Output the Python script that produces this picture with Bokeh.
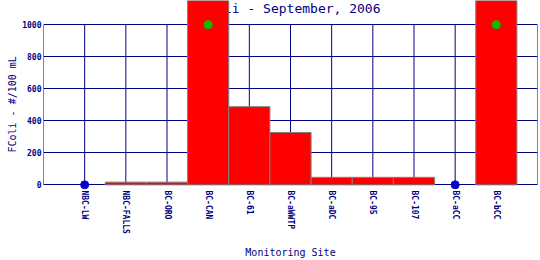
import numpy as np
from bokeh.plotting import figure
from bokeh.models import Range1d, FixedTicker, Title
from bokeh.core.properties import value
from bokeh.embed import file_html
from bokeh.resources import INLINE

# ---- data ----
sites = ["NBC-LW", "NBC-FALLS", "BC-ORO", "BC-CAN", "BC-61", "BC-aWWTP",
         "BC-aDC", "BC-95", "BC-107", "BC-aCC", "BC-bCC"]
fcoli = [0, 17, 17, 1200, 488, 327, 47, 47, 47, 0, 1200]   # >1000 = off scale
y_ticks = [0, 200, 400, 600, 800, 1000]
scale_max = 1000
title_text = "FColi - September, 2006"
x_label = "Monitoring Site"
y_label = "FColi - #/100 mL"

NAVY = "#000080"
FONT = "DejaVu Sans Mono"

n = len(sites)
idx = np.arange(n)
vals = np.array(fcoli, dtype=float)

p = figure(width=540, height=260,
           x_range=Range1d(-1, n), y_range=Range1d(-29, 1151),
           output_backend="svg", toolbar_location=None,
           min_border_left=43, min_border_right=3,
           min_border_top=0, min_border_bottom=70)
p.outline_line_color = None
p.background_fill_color = "white"
p.border_fill_color = "white"
p.xgrid.visible = False

p.ygrid.ticker = FixedTicker(ticks=y_ticks)
p.ygrid.grid_line_color = NAVY
p.ygrid.grid_line_width = 1
p.ygrid.grid_line_alpha = 1

# y axis
p.yaxis.ticker = FixedTicker(ticks=y_ticks)
p.yaxis.axis_line_color = None
p.yaxis.major_tick_line_color = None
p.yaxis.minor_tick_line_color = None
p.yaxis.major_tick_out = 0
p.yaxis.major_tick_in = 0
p.yaxis.minor_tick_out = 0
p.yaxis.minor_tick_in = 0
p.yaxis.major_label_text_font = FONT
p.yaxis.major_label_text_font_style = "bold"
p.yaxis.major_label_text_font_size = "8px"
p.yaxis.major_label_text_color = NAVY
p.yaxis.major_label_standoff = 2

# y axis title in a left side panel, placed to sit over the 0..scale_max band
p.add_layout(Title(text=y_label, align="left", offset=37,
                   text_font=FONT, text_font_size="10px",
                   text_font_style="normal", text_color=NAVY,
                   standoff=4), "left")

# x axis
p.xaxis.ticker = FixedTicker(ticks=list(range(n)))
p.xaxis.major_label_overrides = {i: s for i, s in enumerate(sites)}
p.xaxis.major_label_orientation = "vertical"
p.xaxis.axis_line_color = None
p.xaxis.major_tick_line_color = None
p.xaxis.minor_tick_line_color = None
p.xaxis.major_tick_out = 0
p.xaxis.major_tick_in = 0
p.xaxis.minor_tick_out = 0
p.xaxis.minor_tick_in = 0
p.xaxis.major_label_text_font = FONT
p.xaxis.major_label_text_font_style = "bold"
p.xaxis.major_label_text_font_size = "8px"
p.xaxis.major_label_text_color = NAVY
p.xaxis.major_label_standoff = 1
p.xaxis.axis_label = x_label
p.xaxis.axis_label_text_font = FONT
p.xaxis.axis_label_text_font_style = "normal"
p.xaxis.axis_label_text_font_size = "10px"
p.xaxis.axis_label_text_color = NAVY
p.xaxis.axis_label_standoff = 10

# title drawn beneath the bars
p.text(x=[(n - 1) / 2], y=[1101], text=[title_text],
       text_font=value(FONT), text_font_size="13px", text_color=NAVY,
       text_align="center", text_baseline="middle")

# vertical grid / borders between 0 and the scale max
xs = np.arange(-1, n + 1)
p.segment(x0=xs, y0=0, x1=xs, y1=scale_max, line_color=NAVY, line_width=1)

# bars
pos = vals > 0
p.vbar(x=idx[pos], width=1, bottom=0, top=vals[pos],
       fill_color="#ff0000", line_color="#808080", line_width=1)

# markers: zero values (blue) and off-scale values (green)
zero = vals == 0
p.scatter(x=idx[zero], y=vals[zero], size=8, fill_color="#0000cc",
          line_color="#0000cc")
over = vals > scale_max
p.scatter(x=idx[over], y=np.full(over.sum(), scale_max), size=8,
          fill_color="#00c000", line_color="#00c000")

open("out.html", "w").write(file_html(p, INLINE))
